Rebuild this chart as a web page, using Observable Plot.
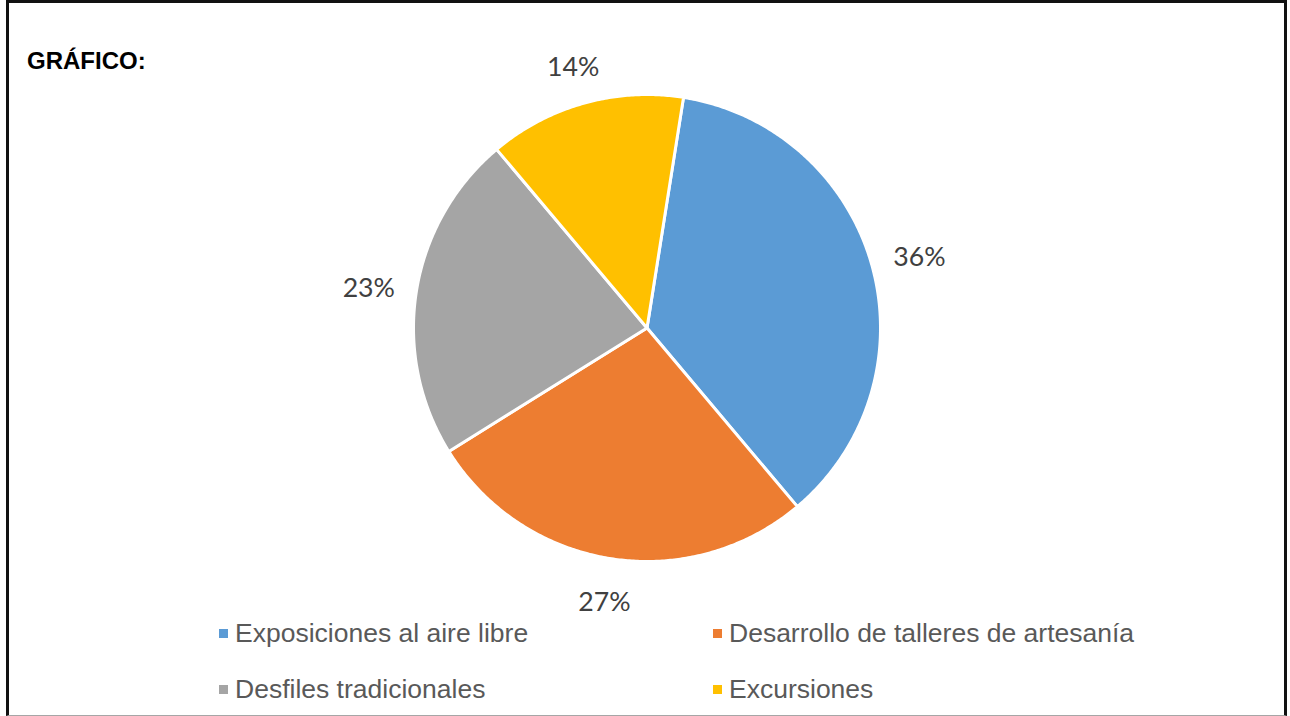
<!DOCTYPE html>
<html>
<head>
<meta charset="utf-8">
<script src="https://cdn.jsdelivr.net/npm/d3@7"></script>
<script src="https://cdn.jsdelivr.net/npm/@observablehq/plot@0.6"></script>
<style>
  html, body { margin: 0; padding: 0; background: #fff; }
  #page { position: relative; width: 1290px; height: 716px; overflow: hidden; }
  #frame { position: absolute; left: 6px; top: 0; width: 1281px; height: 716px; box-sizing: border-box;
           border-left: 3px solid #111; border-top: 3px solid #111; border-right: 3px solid #111; border-bottom: 1px solid #a6a6a6; }
  #title { position: absolute; left: 27px; top: 49px; font: bold 24px "Liberation Sans", Arial, sans-serif; line-height: 24px; color: #000; }
  #chart { position: absolute; left: 0; top: 0; }
  .lg { position: absolute; font: 26.5px "Liberation Sans", Arial, sans-serif; line-height: 26.5px; color: #595959; white-space: nowrap; }
  .sw { position: absolute; width: 9px; height: 9px; }
</style>
</head>
<body>
<div id="page">
  <div id="frame"></div>
  <div id="title">GRÁFICO:</div>
  <div id="chart"></div>
  <div id="legend"></div>
</div>
<script>
const categories = ["Exposiciones al aire libre", "Desarrollo de talleres de artesanía", "Desfiles tradicionales", "Excursiones"];
const counts = [8, 6, 5, 3];
const colors = ["#5B9BD5", "#ED7D31", "#A5A5A5", "#FFC000"];
const firstSliceAngle = 9; // degrees, clockwise from top

const cx = 646.5, cy = 327.5, R = 233.5;
const total = d3.sum(counts);
const a0 = firstSliceAngle * Math.PI / 180;
const arcs = d3.pie().sort(null).startAngle(a0).endAngle(a0 + 2 * Math.PI)(counts);

// slice outlines in unit-circle coordinates
const outline = [];
arcs.forEach((p, i) => {
  const cat = categories[i];
  outline.push({cat, x: 0, y: 0});
  const n = Math.max(2, Math.ceil((p.endAngle - p.startAngle) / (Math.PI / 360)));
  for (let k = 0; k <= n; k++) {
    const a = p.startAngle + (p.endAngle - p.startAngle) * k / n;
    outline.push({cat, x: Math.sin(a), y: Math.cos(a)});
  }
  outline.push({cat, x: 0, y: 0});
});

// outside-end labels
const fmt = d3.format(".0%");
const labels = arcs.map((p, i) => {
  const m = (p.startAngle + p.endAngle) / 2;
  const s = Math.sin(m), c = Math.cos(m);
  const ext = Math.abs(s) * 27 + Math.abs(c) * 16;
  const d = (R + 19 + ext) / R;
  return {x: s * d, y: c * d, text: fmt(counts[i] / total)};
});

const plot = Plot.plot({
  width: 1290,
  height: 600,
  margin: 0,
  style: {background: "transparent", overflow: "visible"},
  x: {domain: [-1, 1], range: [cx - R, cx + R], axis: null},
  y: {domain: [-1, 1], range: [cy + R, cy - R], axis: null},
  color: {domain: categories, range: colors},
  marks: [
    Plot.line(outline, {x: "x", y: "y", z: "cat", fill: "cat", stroke: "white", strokeWidth: 3, strokeLinejoin: "round"}),
    Plot.text(labels, {x: "x", y: "y", text: "text", dy: 5, fontSize: 26.67, fill: "#404040", fontFamily: "Lato, 'Open Sans', sans-serif"})
  ]
});
document.getElementById("chart").appendChild(plot);

// legend (2 columns x 2 rows)
const legend = document.getElementById("legend");
const colX = [219, 713];
const rowBaseline = [642, 698];
categories.forEach((c, i) => {
  const col = i % 2, row = Math.floor(i / 2);
  const sw = document.createElement("div");
  sw.className = "sw";
  sw.style.left = colX[col] + "px";
  sw.style.top = (rowBaseline[row] - 13) + "px";
  sw.style.background = colors[i];
  legend.appendChild(sw);
  const t = document.createElement("div");
  t.className = "lg";
  t.textContent = c;
  t.style.left = (colX[col] + 16) + "px";
  t.style.top = (rowBaseline[row] - 22.4) + "px";
  legend.appendChild(t);
});
</script>
</body>
</html>
